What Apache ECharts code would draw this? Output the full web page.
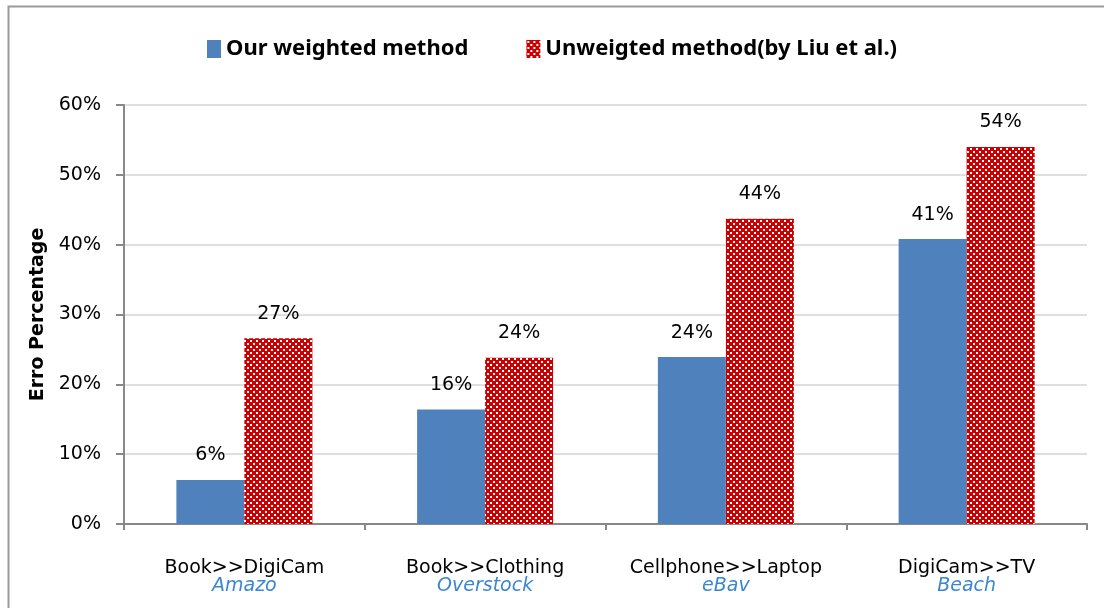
<!DOCTYPE html>
<html>
<head>
<meta charset="utf-8">
<script src="https://cdn.jsdelivr.net/npm/echarts@6/dist/echarts.min.js"></script>
<style>
  html, body { margin: 0; padding: 0; background: #fff; }
  #chart { width: 1104px; height: 608px; }
</style>
</head>
<body>
<div id="chart"></div>
<script>
const categories = ['Book>>DigiCam', 'Book>>Clothing', 'Cellphone>>Laptop', 'DigiCam>>TV']
const sources = ['Amazo', 'Overstock', 'eBav', 'Beach']
const weightedValues = [6.3, 16.4, 23.9, 40.8]
const unweightedValues = [26.6, 23.8, 43.7, 54.0]
const seriesNames = ['Our weighted method', 'Unweigted method(by Liu et al.)']

// red checker pattern used for the Liu et al. bars
const makeChecker = () => {
  const tile = document.createElement('canvas')
  tile.width = 6
  tile.height = 6
  const ctx = tile.getContext('2d')
  ctx.fillStyle = '#cc0000'
  ctx.fillRect(0, 0, 6, 6)
  ctx.fillStyle = '#ffffff'
  ctx.fillRect(1, 1, 2, 2)
  ctx.fillRect(4, 4, 2, 2)
  return tile
}
const checker = { image: makeChecker(), repeat: 'repeat' }

const chart = echarts.init(document.getElementById('chart'))

const barLabel = {
  show: true,
  position: 'top',
  distance: 15,
  color: '#000',
  fontFamily: 'DejaVu Sans',
  fontSize: 19,
  formatter: (p) => Math.round(p.value) + '%'
}

chart.setOption({
  backgroundColor: '#fff',
  animation: false,
  graphic: [
    {
      type: 'rect',
      shape: { x: 8.5, y: 6.5, width: 1200, height: 700 },
      style: { fill: 'none', stroke: '#9a9a9a', lineWidth: 2 },
      silent: true
    }
  ],
  legend: {
    top: 33,
    left: 'center',
    itemGap: 58,
    itemWidth: 14,
    itemHeight: 18,
    icon: 'rect',
    textStyle: { fontFamily: 'Noto Sans', fontWeight: 'bold', fontSize: 22, color: '#000' },
    data: [
      { name: seriesNames[0], itemStyle: { color: '#4f81bd' } },
      { name: seriesNames[1], itemStyle: { color: checker } }
    ]
  },
  grid: { left: 124, right: 17, top: 105, bottom: 84 },
  xAxis: {
    type: 'category',
    data: categories,
    axisLine: { lineStyle: { color: '#888', width: 2 } },
    axisTick: { show: true, length: 6, lineStyle: { color: '#888', width: 2 } },
    axisLabel: {
      margin: 36,
      interval: 0,
      formatter: (value, idx) => '{a|' + value + '}\n{b|' + sources[idx] + '}',
      rich: {
        a: { fontFamily: 'DejaVu Sans', fontSize: 19, color: '#000', lineHeight: 17 },
        b: { fontFamily: 'DejaVu Sans', fontStyle: 'italic', fontSize: 19, color: '#3a87d0', lineHeight: 18 }
      }
    }
  },
  yAxis: {
    type: 'value',
    min: 0,
    max: 60,
    interval: 10,
    name: 'Erro Percentage',
    nameLocation: 'middle',
    nameGap: 76,
    nameTextStyle: { fontFamily: 'DejaVu Sans', fontWeight: 'bold', fontSize: 19, color: '#000' },
    axisLine: { show: true, lineStyle: { color: '#888', width: 2 } },
    axisTick: { show: true, length: 8, lineStyle: { color: '#888', width: 2 } },
    axisLabel: {
      margin: 23,
      fontFamily: 'DejaVu Sans',
      fontSize: 19,
      color: '#000',
      formatter: '{value}%'
    },
    splitLine: { lineStyle: { color: '#d4d4d4', width: 1.5 } }
  },
  series: [
    {
      name: seriesNames[0],
      type: 'bar',
      data: weightedValues,
      barWidth: 68,
      barGap: '0%',
      itemStyle: { color: '#4f81bd' },
      label: barLabel
    },
    {
      name: seriesNames[1],
      type: 'bar',
      data: unweightedValues,
      barWidth: 68,
      barGap: '0%',
      itemStyle: { color: checker },
      label: barLabel
    }
  ]
})
</script>
</body>
</html>
